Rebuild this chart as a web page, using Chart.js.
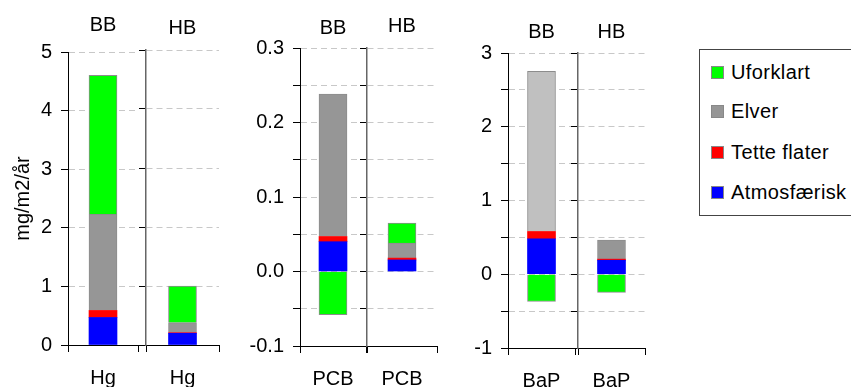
<!DOCTYPE html>
<html>
<head>
<meta charset="utf-8">
<script src="https://cdn.jsdelivr.net/npm/chart.js@4"></script>
<style>
  html, body { margin: 0; padding: 0; background: #fff; }
  #wrap { position: relative; width: 851px; height: 387px; overflow: hidden; font-family: 'Liberation Sans', Arial, sans-serif; }
  #wrap canvas { position: absolute; top: 0; }
  #legend { position: absolute; left: 699px; top: 49px; width: 170px; height: 167px; border: 1px solid #444; box-sizing: border-box; }
  .item { position: absolute; left: 11px; height: 22px; line-height: 22px; font-size: 20px; letter-spacing: 0.4px; white-space: nowrap; color: #000; }
  .item span { display: inline-block; width: 11px; height: 11px; border: 1px solid #888; margin-right: 7px; vertical-align: 0px; }
</style>
</head>
<body>
<div id="wrap">
  <canvas id="c0"></canvas>
  <canvas id="c1"></canvas>
  <canvas id="c2"></canvas>
  <canvas id="c3"></canvas>
  <canvas id="c4"></canvas>
  <canvas id="c5"></canvas>
  <div id="legend"></div>
</div>
<script>
// data, one entry per bar (BB / HB for each substance)
const groups = ['BB', 'HB', 'BB', 'HB', 'BB', 'HB'];
const substances = ['Hg', 'Hg', 'PCB', 'PCB', 'BaP', 'BaP'];
const atmosfaerisk = [0.47, 0.20, 0.040, 0.0155, 0.48, 0.19];
const tetteFlater = [0.12, 0.01, 0.007, 0.0025, 0.10, 0.015];
const elver = [1.64, 0.17, 0.191, 0.020, 2.17, 0.26];
const uforklart = [2.37, 0.62, -0.058, 0.027, -0.37, -0.245];
const seriesNames = ['Atmosfærisk', 'Tette flater', 'Elver', 'Uforklart'];

// y axis tick labels per substance
const hgTicks = ['0', '1', '2', '3', '4', '5'];
const pcbTicks = ['-0.1', '', '0.0', '', '0.1', '', '0.2', '', '0.3'];
const bapTicks = ['-1', '', '0', '', '1', '', '2', '', '3'];

Chart.defaults.font.family = "'Liberation Sans', Arial, sans-serif";
Chart.defaults.font.size = 20;
Chart.defaults.color = '#000';

const colors = ['#0000ff', '#ff0000', '#969696', '#00ff00'];

const panels = {
  Hg: { min: 0, max: 5, step: 1, labels: hgTicks },
  PCB: { min: -0.1, max: 0.3, step: 0.05, labels: pcbTicks },
  BaP: { min: -1, max: 3, step: 0.5, labels: bapTicks }
};

// canvas placement: left, plot width, y-axis width, title padding, x-axis height
const layout = [
  { left: 0, width: 138, yW: 68, tp: 13, tb: 15, xH: 55 },
  { left: 138, width: 81, yW: 8, tp: 16, tb: 10, xH: 55 },
  { left: 240, width: 126, yW: 60, tp: 16, tb: 8, xH: 54 },
  { left: 359, width: 78, yW: 8, tp: 14, tb: 10, xH: 54 },
  { left: 448, width: 127, yW: 60, tp: 20, tb: 9, xH: 52 },
  { left: 570, width: 75, yW: 8, tp: 20, tb: 9, xH: 52 }
];
const rightPad = 20;

const makeChart = (i) => {
  const lay = layout[i];
  const p = panels[substances[i]];
  const isBB = groups[i] === 'BB';
  const canvas = document.getElementById('c' + i);
  canvas.width = lay.width + rightPad;
  canvas.height = 400;
  canvas.style.left = lay.left + 'px';

  const values = [atmosfaerisk[i], tetteFlater[i], elver[i], uforklart[i]];
  const datasets = seriesNames.map((name, k) => {
    let bg = colors[k];
    if (k === 2 && i === 4) bg = '#c0c0c0';
    return {
      label: name,
      data: [values[k]],
      backgroundColor: bg,
      borderColor: k >= 2 ? '#8c8c8c' : bg,
      borderWidth: k >= 2 ? 1 : 0,
      barThickness: 28
    };
  });

  return new Chart(canvas, {
    type: 'bar',
    data: { labels: [substances[i]], datasets: datasets },
    options: {
      responsive: false,
      animation: false,
      events: [],
      layout: { padding: { left: 0, top: 0, bottom: 0, right: rightPad } },
      plugins: {
        legend: { display: false },
        tooltip: { enabled: false },
        title: {
          display: true,
          text: groups[i],
          fullSize: false,
          color: '#000',
          font: { size: 20, weight: 'normal' },
          padding: { top: lay.tp, bottom: lay.tb }
        }
      },
      scales: {
        x: {
          stacked: true,
          offset: true,
          grid: { offset: true, drawOnChartArea: false, drawTicks: true, tickLength: 7, color: '#000' },
          border: { color: '#000', width: 1 },
          ticks: { padding: 14, color: '#000', font: { size: 20 } },
          afterFit: (s) => { s.height = lay.xH; }
        },
        y: {
          stacked: true,
          min: p.min,
          max: p.max,
          grid: { color: '#c8c8c8', tickColor: '#000', tickLength: 7, drawTicks: true },
          border: { color: isBB ? '#000' : '#666', width: isBB ? 1 : 1.5, dash: [6, 4] },
          ticks: {
            display: isBB,
            stepSize: p.step,
            autoSkip: false,
            padding: 9,
            color: '#000',
            font: { size: 20 },
            callback: (v, idx) => p.labels[idx]
          },
          title: {
            display: i === 0,
            text: 'mg/m2/år',
            color: '#000',
            font: { size: 20 },
            padding: { top: 11, bottom: 0 }
          },
          afterFit: (s) => { s.width = lay.yW; }
        }
      }
    }
  });
};

for (let i = 0; i < groups.length; i++) {
  makeChart(i);
}

// legend, top entry is the top of the stack
const legend = document.getElementById('legend');
const legendTops = [11, 50, 91, 131];
seriesNames.slice().reverse().forEach((name, k) => {
  const idx = seriesNames.length - 1 - k;
  const item = document.createElement('div');
  item.className = 'item';
  item.style.top = legendTops[k] + 'px';
  const sw = document.createElement('span');
  sw.style.background = colors[idx];
  item.appendChild(sw);
  item.appendChild(document.createTextNode(name));
  legend.appendChild(item);
});
</script>
</body>
</html>
